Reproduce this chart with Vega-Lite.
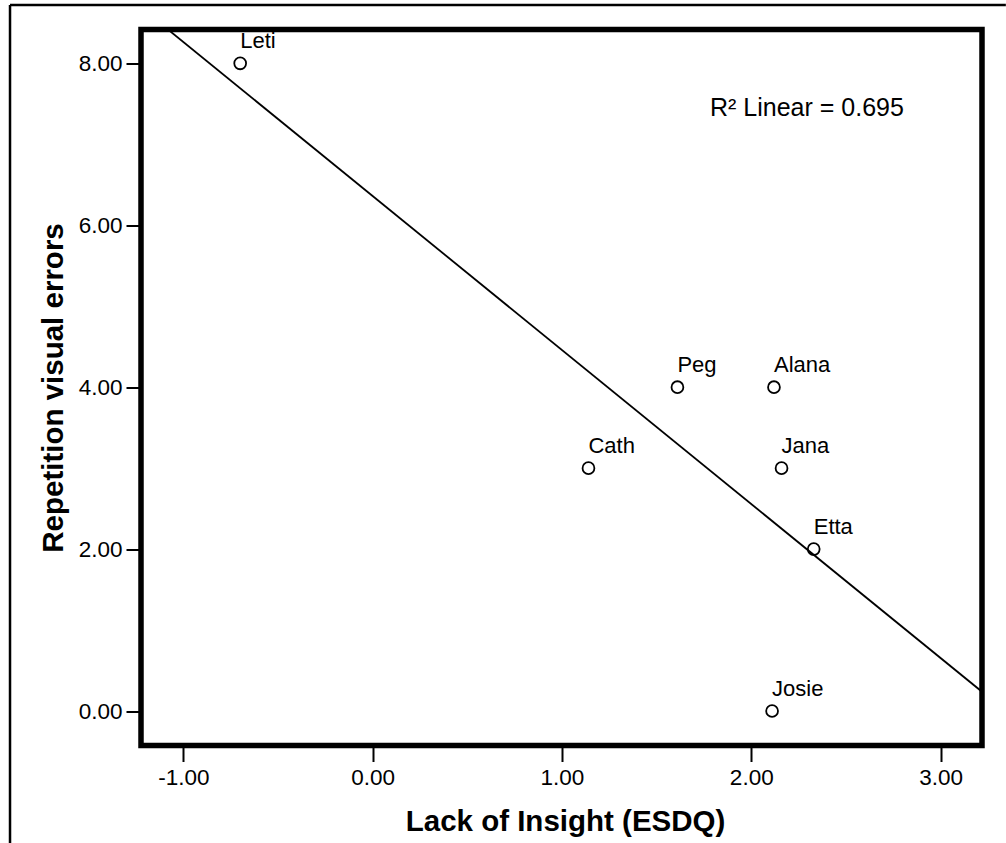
{
  "$schema": "https://vega.github.io/schema/vega-lite/v6.json",
  "autosize": {"type": "none"},
  "padding": {"left": 141, "top": 29.5, "right": 24, "bottom": 97.5},
  "width": 841,
  "height": 716,
  "background": "white",
  "config": {
    "font": "Liberation Sans",
    "view": {"stroke": "black", "strokeWidth": 5.5}
  },
  "datasets": {
    "people": [
      {"name": "Leti", "insight": -0.70, "errors": 8},
      {"name": "Peg", "insight": 1.61, "errors": 4},
      {"name": "Alana", "insight": 2.12, "errors": 4},
      {"name": "Cath", "insight": 1.14, "errors": 3},
      {"name": "Jana", "insight": 2.16, "errors": 3},
      {"name": "Etta", "insight": 2.33, "errors": 2},
      {"name": "Josie", "insight": 2.11, "errors": 0}
    ],
    "fit": [
      {"insight": -1.224, "errors": 8.689},
      {"insight": 3.219, "errors": 0.238}
    ]
  },
  "layer": [
    {
      "data": {"name": "fit"},
      "mark": {"type": "line", "color": "black", "strokeWidth": 1.8, "clip": true},
      "encoding": {
        "x": {
          "field": "insight", "type": "quantitative",
          "scale": {"domain": [-1.224, 3.219], "nice": false, "zero": false},
          "axis": {
            "title": "Lack of Insight (ESDQ)",
            "values": [-1, 0, 1, 2, 3],
            "format": ".2f",
            "labelExpr": "replace(datum.label, '\u2212', '-')",
            "domain": false,
            "grid": false,
            "ticks": true,
            "tickColor": "black",
            "tickWidth": 2,
            "tickSize": 16,
            "labelFont": "Liberation Sans",
            "labelFontSize": 22.5,
            "labelColor": "black",
            "labelPadding": 5,
            "titleFont": "Liberation Sans",
            "titleFontSize": 29.5,
            "titleFontWeight": "bold",
            "titleColor": "black",
            "titleX": 424,
            "titleY": 84.5,
            "titleAlign": "center",
            "titleBaseline": "alphabetic"
          }
        },
        "y": {
          "field": "errors", "type": "quantitative",
          "scale": {"domain": [-0.426, 8.418], "nice": false, "zero": false},
          "axis": {
            "title": "Repetition visual errors",
            "values": [0, 2, 4, 6, 8],
            "format": ".2f",
            "domain": false,
            "grid": false,
            "ticks": true,
            "tickColor": "black",
            "tickWidth": 2,
            "tickSize": 15,
            "labelFont": "Liberation Sans",
            "labelFontSize": 22.5,
            "labelColor": "black",
            "labelPadding": 4,
            "titleFont": "Liberation Sans",
            "titleFontSize": 29.5,
            "titleFontWeight": "bold",
            "titleColor": "black",
            "titleAngle": -90,
            "titleX": -79,
            "titleY": 358,
            "titleAlign": "center",
            "titleBaseline": "alphabetic"
          }
        }
      }
    },
    {
      "data": {"name": "people"},
      "mark": {"type": "point", "shape": "circle", "filled": false, "stroke": "black", "strokeWidth": 1.8, "size": 140, "opacity": 1},
      "encoding": {
        "x": {"field": "insight", "type": "quantitative"},
        "y": {"field": "errors", "type": "quantitative"}
      }
    },
    {
      "data": {"name": "people"},
      "mark": {"type": "text", "align": "left", "baseline": "alphabetic", "dy": -15, "fontSize": 22, "font": "Liberation Sans", "color": "black"},
      "encoding": {
        "x": {"field": "insight", "type": "quantitative"},
        "y": {"field": "errors", "type": "quantitative"},
        "text": {"field": "name"}
      }
    },
    {
      "data": {"values": [{}]},
      "mark": {"type": "text", "align": "left", "baseline": "middle", "fontSize": 25, "font": "Liberation Sans", "color": "black"},
      "encoding": {
        "x": {"datum": 1.782},
        "y": {"datum": 7.448},
        "text": {"value": "R² Linear = 0.695"}
      }
    },
    {
      "data": {"values": [{}]},
      "mark": {"type": "rule", "color": "black", "strokeWidth": 2.5, "clip": false},
      "encoding": {
        "x": {"datum": -1.916},
        "x2": {"datum": 3.345},
        "y": {"datum": 8.72}
      }
    },
    {
      "data": {"values": [{}]},
      "mark": {"type": "rule", "color": "black", "strokeWidth": 2.5, "clip": false},
      "encoding": {
        "x": {"datum": -1.916},
        "y": {"datum": 8.72},
        "y2": {"datum": -1.63}
      }
    }
  ]
}
